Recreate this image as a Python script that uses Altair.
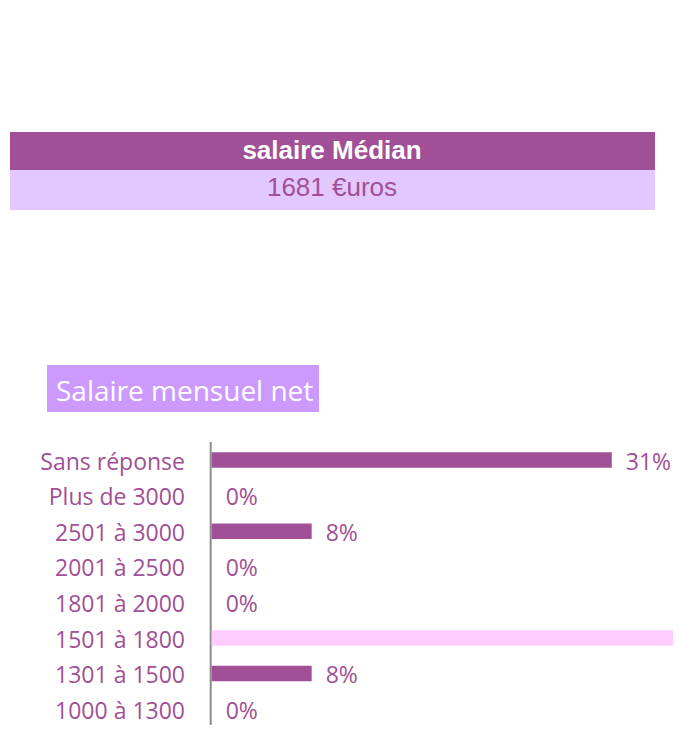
import altair as alt
import pandas as pd

# ---- data ----
categories = ["Sans réponse", "Plus de 3000", "2501 à 3000", "2001 à 2500",
              "1801 à 2000", "1501 à 1800", "1301 à 1500", "1000 à 1300"]
shares = [0.3077, 0.0, 0.0769, 0.0, 0.0, 0.5385, 0.0769, 0.0]
share_labels = ["31%", "0%", "8%", "0%", "0%", "54%", "8%", "0%"]
highlight = "1501 à 1800"

header_title = "salaire Médian"
header_value = "1681 €uros"
chart_title = "Salaire mensuel net"

DARK = "#A14F96"
LAVENDER = "#E3C8FF"
TITLE_BG = "#CC99FF"
PINK = "#FFCCFF"
FONT = "Open Sans"

X_MAX = 0.3548

df = pd.DataFrame({"cat": categories, "share": shares, "label": share_labels})

xscale = alt.Scale(domain=[0, X_MAX], range=[203.7, 665])
yscale = alt.Scale(domain=categories, range=[434.2, 719.0], paddingInner=0.565, paddingOuter=0.2825)

base = alt.Chart(df)

bars = base.mark_bar(clip=True).encode(
    x=alt.X("share:Q", scale=xscale, axis=None),
    y=alt.Y("cat:N", scale=yscale, axis=None, sort=categories),
    color=alt.condition(alt.datum.cat == highlight, alt.value(PINK), alt.value(DARK)),
)

# labels of bars running past the visible edge are off-screen (as in the reference)
values = base.transform_filter(alt.datum.share < X_MAX).mark_text(
    align="left", baseline="alphabetic", dx=14, dy=9.5, font=FONT,
    fontSize=23, color=DARK).encode(
    x=alt.X("share:Q", scale=xscale, axis=None),
    y=alt.Y("cat:N", scale=yscale, axis=None, sort=categories),
    text="label:N",
)

cat_labels = base.mark_text(align="right", baseline="alphabetic", dy=9.5, font=FONT,
                            fontSize=23, color=DARK).encode(
    x=alt.value(177),
    y=alt.Y("cat:N", scale=yscale, axis=None, sort=categories),
    text="cat:N",
)

one = pd.DataFrame({"a": [0]})
axis_line = alt.Chart(one).mark_rule(color="#8C8C8C", strokeWidth=2).encode(
    x=alt.value(202.7), y=alt.value(434), y2=alt.value(717)
)

hdr_dark = alt.Chart(one).mark_rect(color=DARK).encode(
    x=alt.value(2), x2=alt.value(647), y=alt.value(124), y2=alt.value(162))
hdr_light = alt.Chart(one).mark_rect(color=LAVENDER).encode(
    x=alt.value(2), x2=alt.value(647), y=alt.value(162), y2=alt.value(202))
hdr_t1 = alt.Chart(pd.DataFrame({"t": [header_title]})).mark_text(
    font="Liberation Sans", fontSize=26, fontWeight="bold", color="white",
    align="center", baseline="alphabetic").encode(
    x=alt.value(324), y=alt.value(151), text="t:N")
hdr_t2 = alt.Chart(pd.DataFrame({"t": [header_value]})).mark_text(
    font="Liberation Sans", fontSize=26, color=DARK,
    align="center", baseline="alphabetic").encode(
    x=alt.value(324), y=alt.value(188), text="t:N")

title_box = alt.Chart(one).mark_rect(color=TITLE_BG).encode(
    x=alt.value(39), x2=alt.value(311), y=alt.value(357), y2=alt.value(404))
title_txt = alt.Chart(pd.DataFrame({"t": [chart_title]})).mark_text(
    font=FONT, fontSize=28, color="white", align="left", baseline="alphabetic").encode(
    x=alt.value(48), y=alt.value(393), text="t:N")

chart = alt.layer(
    hdr_dark, hdr_light, hdr_t1, hdr_t2, title_box, title_txt,
    axis_line, bars, values, cat_labels
).properties(
    width=665, height=717, padding=0, autosize="none"
).configure_view(stroke=None)

chart.save("out.html", embed_options={"renderer": "svg", "actions": False})
